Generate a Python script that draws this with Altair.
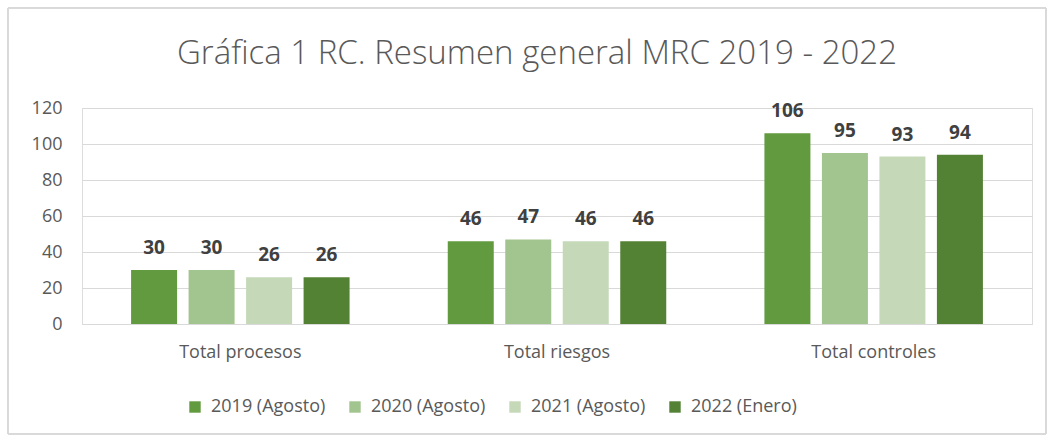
import altair as alt
import pandas as pd

categories = ["Total procesos", "Total riesgos", "Total controles"]
series = ["2019 (Agosto)", "2020 (Agosto)", "2021 (Agosto)", "2022 (Enero)"]
values = {
    "2019 (Agosto)": [30, 46, 106],
    "2020 (Agosto)": [30, 47, 95],
    "2021 (Agosto)": [26, 46, 93],
    "2022 (Enero)": [26, 46, 94],
}
colors = ["#629A3F", "#A2C48E", "#C5D9B8", "#548235"]
title_text = "Gráfica 1 RC. Resumen general MRC 2019 - 2022"
y_ticks = [0, 20, 40, 60, 80, 100, 120]

rows = []
for s in series:
    for c, v in zip(categories, values[s]):
        rows.append({"cat": c, "serie": s, "val": v})
df = pd.DataFrame(rows)

FONT = "Open Sans"

y_enc = alt.Y("val:Q", title=None,
              scale=alt.Scale(domain=[0, 120]),
              axis=alt.Axis(values=y_ticks, labelFontSize=18,
                            labelColor="#595959", labelFont=FONT, labelPadding=20,
                            domain=False, ticks=False, gridColor="#D9D9D9"))

base = alt.Chart(df).encode(
    x=alt.X("cat:N", sort=categories, title=None,
            scale=alt.Scale(paddingInner=0.31, paddingOuter=0.155),
            axis=alt.Axis(labelAngle=0, labelFontSize=18, labelColor="#595959",
                          labelFont=FONT, labelPadding=19, domainColor="#D9D9D9",
                          ticks=False, grid=False)),
    xOffset=alt.XOffset("serie:N", sort=series,
                        scale=alt.Scale(paddingInner=0.2, paddingOuter=0)),
    y=y_enc,
)

bars = base.mark_bar().encode(
    color=alt.Color("serie:N", sort=series,
                    scale=alt.Scale(domain=series, range=colors),
                    legend=alt.Legend(title=None, orient="none", legendX=104, legendY=290,
                                      direction="horizontal", columns=4,
                                      symbolType="square", symbolSize=130,
                                      symbolStrokeWidth=0, labelFontSize=18,
                                      labelColor="#595959", labelFont=FONT,
                                      columnPadding=20, labelOffset=7)),
)

labels = base.mark_text(fontSize=19, fontWeight="bold", color="#404040",
                        font=FONT, baseline="bottom", dy=-12).encode(
    text=alt.Text("val:Q"),
)

border = alt.Chart(df).mark_rect(fill=None, stroke="#D9D9D9", strokeWidth=1).encode(
    x=alt.value(-74), x2=alt.value(964), y=alt.value(-100), y2=alt.value(326)
)

title = alt.Chart(pd.DataFrame({"t": [title_text]})).mark_text(
    fontSize=33, font=FONT, fontWeight=300, color="#595959",
    align="center", baseline="middle"
).encode(x=alt.value(455), y=alt.value(-54), text="t:N")

chart = alt.layer(border, bars, labels, title).properties(
    width=950, height=216,
    autosize=alt.AutoSizeParams(type="none"),
    padding={"left": 82, "top": 108, "right": 23, "bottom": 117},
).configure_view(stroke=None).configure(background="white")

chart.save("out.html", embed_options={"renderer": "svg", "actions": False})
